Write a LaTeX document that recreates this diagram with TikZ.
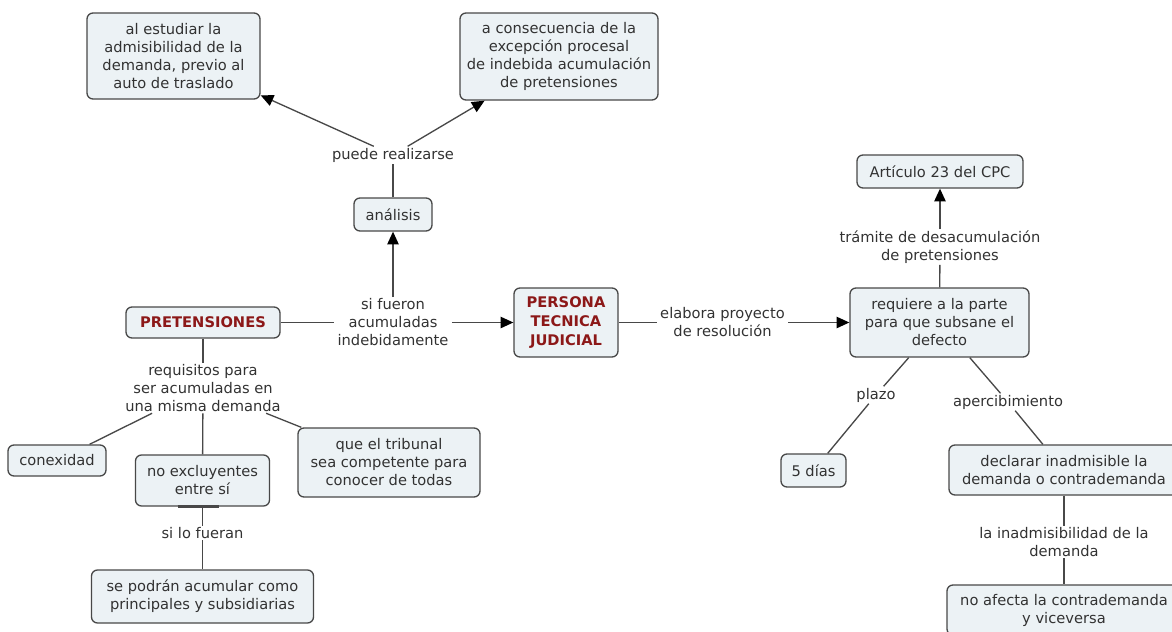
\documentclass[tikz,border=0pt]{standalone}
\usepackage{fontspec}
\setmainfont{DejaVu Sans}
\usetikzlibrary{arrows.meta}
\definecolor{boxfill}{RGB}{236,242,245}
\definecolor{edge}{RGB}{72,72,72}
\definecolor{ink}{RGB}{50,50,50}
\definecolor{conceptred}{RGB}{140,24,24}
\begin{document}
\begin{tikzpicture}[x=0.75pt,y=-0.75pt,
  txt/.style={font=\fontsize{11}{13.5}\selectfont, text=ink, align=center},
  box/.style={txt, draw=edge, line width=1pt, fill=boxfill, rounded corners=4.5pt, inner sep=0pt},
  bw/.style={minimum width=#1*0.75pt},
  bh/.style={minimum height=#1*0.75pt},
  key/.style={font=\fontsize{11}{14}\selectfont\bfseries, text=conceptred},
  lab/.style={txt, inner xsep=2.5pt, inner ysep=1pt},
  con/.style={draw=edge, line width=1pt},
  arr/.style={con, -{Triangle[length=9.5pt,width=8.5pt,color=black]}}]
\useasboundingbox (0,0) rectangle (1172,632);
\clip (0,0) rectangle (1172,632);

% concept boxes
\node[box, bw=173, bh=86] (est) at (173.5,56) {al estudiar la\\admisibilidad de la\\demanda, previo al\\auto de traslado};
\node[box, bw=198, bh=87] (cons) at (559,56.5) {a consecuencia de la\\excepción procesal\\de indebida acumulación\\de pretensiones};
\node[box, bw=78, bh=33] (anal) at (393,214.5) {análisis};
\node[box, key, bw=154, bh=31] (pret) at (203,322.5) {PRETENSIONES};
\node[box, key, bw=104, bh=69] (pers) at (566,322.5) {PERSONA\\TECNICA\\JUDICIAL};
\node[box, bw=179, bh=69] (req) at (939.5,322.5) {requiere a la parte\\para que subsane el\\defecto};
\node[box, bw=166, bh=33] (art) at (940,171.5) {Artículo 23 del CPC};
\node[box, bw=65, bh=33] (dias) at (813.5,470.5) {5 días};
\node[box, bw=230, bh=50] (decl) at (1064,470) {declarar inadmisible la\\demanda o contrademanda};
\node[box, bw=234, bh=50] (noaf) at (1064,610) {no afecta la contrademanda\\y viceversa};
\node[box, bw=98, bh=31] (conex) at (57,460.5) {conexidad};
\node[box, bw=134, bh=51] (noex) at (202.5,480.5) {no excluyentes\\entre sí};
\node[box, bw=182, bh=69] (trib) at (389,462.5) {que el tribunal\\sea competente para\\conocer de todas};
\node[box, bw=222, bh=53] (sepod) at (202.5,596.5) {se podrán acumular como\\principales y subsidiarias};

% linking phrases
\node[lab] (puede) at (393,155) {puede realizarse};
\node[lab] (sif) at (393,322.5) {si fueron\\acumuladas\\indebidamente};
\node[lab] (elab) at (722.5,322.5) {elabora proyecto\\de resolución};
\node[lab] (tram) at (940,247) {trámite de desacumulación\\de pretensiones};
\node[lab] (plazo) at (876,395) {plazo};
\node[lab] (aperc) at (1008,402) {apercibimiento};
\node[lab] (inad) at (1064,542) {la inadmisibilidad de la\\demanda};
\node[lab] (reqs) at (203,388) {requisitos para\\ser acumuladas en\\una misma demanda};
\node[lab] (silo) at (202.5,533) {si lo fueran};

% connectors
\draw[con] (anal) -- (puede);
\draw[arr] (puede) -- (est);
\draw[arr] (puede) -- (cons);
\draw[arr] (sif) -- (anal);
\draw[con] (pret) -- (sif);
\draw[arr] (sif) -- (pers);
\draw[con] (pers) -- (elab);
\draw[arr] (elab) -- (req);
\draw[con] (req) -- (tram);
\draw[arr] (tram) -- (art);
\draw[con] (req) -- (plazo);
\draw[con] (plazo) -- (dias);
\draw[con] (req) -- (aperc);
\draw[con] (aperc) -- (decl);
\draw[con] (decl) -- (inad);
\draw[con] (inad) -- (noaf);
\draw[con] (pret) -- (reqs);
\draw[con] (reqs) -- (conex);
\draw[con] (reqs) -- (noex);
\draw[con] (reqs) -- (trib);
\draw[con] (noex) -- (silo);
\draw[con] (silo) -- (sepod);
% heavier stroke along the lower edge of the "no excluyentes" box
\draw[draw=edge, line width=2pt] (noex.south) ++(-25,0) -- ++(41,0);
\end{tikzpicture}
\end{document}
